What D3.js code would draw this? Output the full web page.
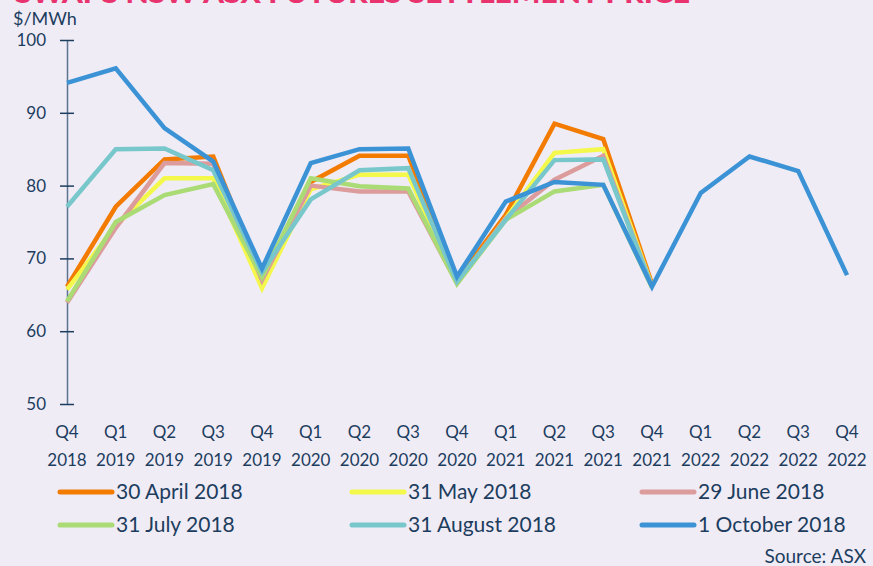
<!DOCTYPE html>
<html><head><meta charset="utf-8">
<script src="https://cdn.jsdelivr.net/npm/d3@7"></script>
<style>
html,body{margin:0;padding:0;background:#efecf6;}
svg{display:block;}
</style></head>
<body>
<svg id="chart" width="873" height="566"></svg>
<script>
const quarters = ["Q4","Q1","Q2","Q3","Q4","Q1","Q2","Q3","Q4","Q1","Q2","Q3","Q4","Q1","Q2","Q3","Q4"];
const years = ["2018","2019","2019","2019","2019","2020","2020","2020","2020","2021","2021","2021","2021","2022","2022","2022","2022"];
const yTicks = [50,60,70,80,90,100];
const seriesNames = ["30 April 2018","31 May 2018","29 June 2018","31 July 2018","31 August 2018","1 October 2018"];
const seriesColors = ["#f27b00","#f4f84a","#dc9c9b","#aadb74","#78c7cb","#3b93d6"];
const april = [66.1,77.1,83.6,84.0,67.3,80.5,84.1,84.1,67.0,76.0,88.5,86.4,66.5];
const may = [65.7,74.5,81.0,81.0,65.9,79.5,81.5,81.5,66.6,75.5,84.5,85.0,66.2];
const june = [63.9,74.2,83.1,83.0,67.0,80.0,79.2,79.2,66.6,75.5,80.8,84.1,66.1];
const july = [64.1,75.0,78.7,80.2,67.4,81.0,79.9,79.6,66.5,75.3,79.2,80.1,66.0];
const august = [77.1,85.0,85.1,82.1,68.1,78.1,82.1,82.4,66.8,75.3,83.5,83.6,66.1];
const october = [94.1,96.1,87.9,83.3,68.6,83.1,85.0,85.1,67.5,77.8,80.5,80.1,66.1,79.0,84.0,82.0,67.7];
const allSeries = [april, may, june, july, august, october];

const svg = d3.select("#chart");
const ink = "#1d3d5e";
const x = d3.scaleLinear().domain([0, quarters.length-1]).range([67, 847]);
const y = d3.scaleLinear().domain([50,100]).range([404, 40]);

// Title (cropped at top)
svg.append("text").attr("x",15).attr("y",3)
  .attr("font-family","Lato, sans-serif").attr("font-weight","900").attr("font-size",26)
  .attr("fill","#e8336f").attr("textLength",675).attr("lengthAdjust","spacingAndGlyphs")
  .text("SWAPS NSW ASX FUTURES SETTLEMENT PRICE");

// Unit label
svg.append("text").attr("x",13).attr("y",25)
  .attr("font-family","Lato, sans-serif").attr("font-size",18).attr("fill",ink)
  .text("$/MWh");

// Y axis
const yAxis = d3.axisLeft(y).tickValues(yTicks).tickSize(7).tickSizeOuter(0).tickPadding(0);
const gy = svg.append("g").attr("transform","translate(67,0)").call(yAxis);
gy.select(".domain").attr("stroke","#5c7390").attr("stroke-width",1.5);
gy.selectAll(".tick line").attr("stroke",ink).attr("stroke-width",1.5).attr("x1",7).attr("x2",-7);
gy.selectAll(".tick text").attr("x",-21).attr("font-family","Lato, sans-serif").attr("font-size",17).attr("fill",ink);

// X labels
const xg = svg.append("g");
quarters.forEach((q,i)=>{
  xg.append("text").attr("x",x(i)).attr("y",438).attr("text-anchor","middle")
    .attr("font-family","Lato, sans-serif").attr("font-size",17).attr("fill",ink).text(q);
  xg.append("text").attr("x",x(i)).attr("y",466).attr("text-anchor","middle")
    .attr("font-family","Lato, sans-serif").attr("font-size",17).attr("fill",ink).text(years[i]);
});

// Lines
const line = d3.line().x((d,i)=>x(i)).y(d=>y(d));
allSeries.forEach((s,k)=>{
  svg.append("path").datum(s).attr("d",line).attr("fill","none")
    .attr("stroke",seriesColors[k]).attr("stroke-width",4.5).attr("stroke-linejoin","miter");
});

// Legend
const legX = [60,352,642], legY = [492,525];
seriesNames.forEach((n,k)=>{
  const lx = legX[k%3], ly = legY[Math.floor(k/3)];
  svg.append("line").attr("x1",lx).attr("x2",lx+52).attr("y1",ly).attr("y2",ly)
    .attr("stroke",seriesColors[k]).attr("stroke-width",5).attr("stroke-linecap","round");
  svg.append("text").attr("x",lx+56).attr("y",ly+7)
    .attr("font-family","Lato, sans-serif").attr("font-size",21).attr("fill",ink).text(n);
});

svg.append("text").attr("x",866).attr("y",563).attr("text-anchor","end")
  .attr("font-family","Lato, sans-serif").attr("font-size",19).attr("fill",ink).text("Source: ASX");
</script>
</body></html>
